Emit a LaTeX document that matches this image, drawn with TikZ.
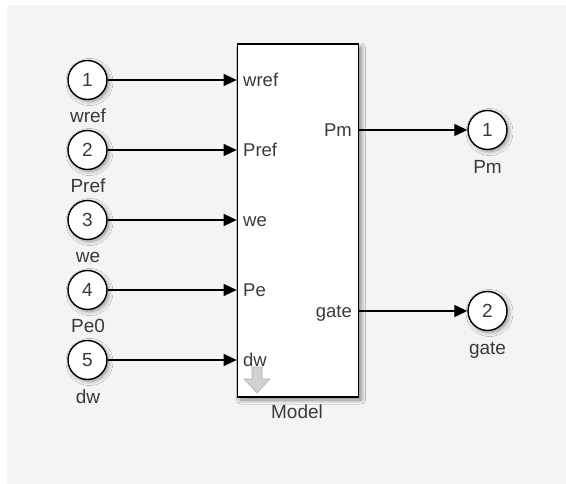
\documentclass[tikz,border=0pt]{standalone}
\usepackage{fontspec}
\setmainfont{Liberation Sans}
\usetikzlibrary{arrows.meta,shadows.blur}
\definecolor{canvas}{HTML}{F4F4F4}
\definecolor{labelgray}{HTML}{3A3A3A}
\tikzset{
  port/.style={circle, draw=black, line width=1.4pt, fill=white, minimum size=39pt,
    inner sep=0pt, font=\fontsize{19}{22}\selectfont, text=labelgray,
    blur shadow={shadow xshift=2pt, shadow yshift=-2pt, shadow blur steps=8,
      shadow blur radius=4pt, shadow opacity=40}},
  portlabel/.style={font=\fontsize{19}{22}\selectfont, text=labelgray, inner sep=0pt, anchor=base},
  signal/.style={line width=1.3pt, -{Triangle[length=13pt,width=12pt]}},
  pin/.style={font=\fontsize{18.5}{22}\selectfont, text=labelgray, inner sep=0pt},
  subsys/.style={draw=black, line width=1.6pt, fill=white,
    blur shadow={shadow xshift=3pt, shadow yshift=-3pt, shadow blur steps=8,
      shadow blur radius=4pt, shadow opacity=45}},
}
\begin{document}
\begin{tikzpicture}[x=1pt,y=-1pt]
\useasboundingbox (0,0) rectangle (566,484);
\fill[canvas] (7,5) rectangle (566,484);

% subsystem block
\node[subsys, minimum width=121pt, minimum height=353pt, inner sep=0pt] (blk) at (298,220.5) {};
\node[portlabel] (model) at (297,419) {Model};

% look-under arrow icon
\draw[black!30, fill=black!18, line width=0.6pt]
  (252,367) -- (262,367) -- (262,379) -- (270,379) -- (257,393) -- (244,379) -- (252,379) -- cycle;

% inputs
\foreach \n/\y/\lab/\pinlab in {1/80/wref/wref, 2/150/Pref/Pref, 3/220/we/we, 4/290/Pe0/Pe, 5/360/dw/dw}{
  \node[port] (in\n) at (87.5,\y) {\n};
  \node[portlabel] (inlab\n) at (88,\y+43) {\lab};
  \coordinate (blkin\n) at (blk.west |- 0,\y);
  \node[pin, anchor=base west] (pinin\n) at (243,\y+6.5) {\pinlab};
  \draw[signal] (in\n) -- (blkin\n);
}

% outputs
\foreach \n/\y/\lab in {1/130/Pm, 2/311/gate}{
  \node[port] (out\n) at (487.5,\y) {\n};
  \node[portlabel] (outlab\n) at (487.5,\y+43.5) {\lab};
  \coordinate (blkout\n) at (blk.east |- 0,\y);
  \node[pin, anchor=base east] (pinout\n) at (352,\y+6.5) {\lab};
  \draw[signal] (blkout\n) -- (out\n);
}
\end{tikzpicture}
\end{document}
